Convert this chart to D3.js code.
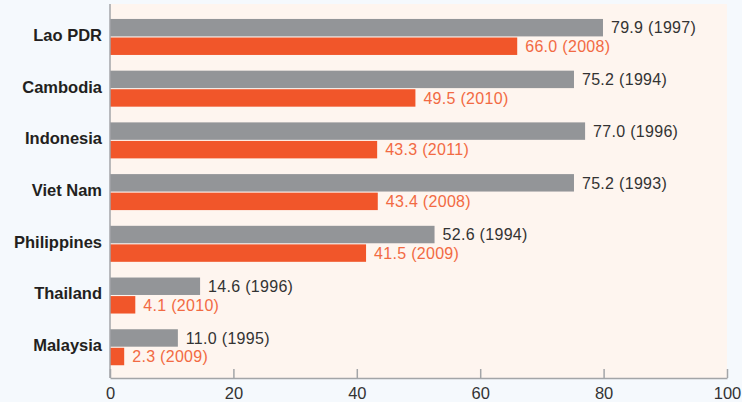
<!DOCTYPE html>
<html>
<head>
<meta charset="utf-8">
<script src="https://cdn.jsdelivr.net/npm/d3@7"></script>
<style>
  html, body { margin: 0; padding: 0; background: #f5f9fd; }
  svg { display: block; font-family: "Liberation Sans", Arial, Helvetica, sans-serif; }
</style>
</head>
<body>
<svg id="chart" width="742" height="402"></svg>
<script>
// Data
const countries = ["Lao PDR", "Cambodia", "Indonesia", "Viet Nam", "Philippines", "Thailand", "Malaysia"];
const earlierValues = [79.9, 75.2, 77.0, 75.2, 52.6, 14.6, 11.0];
const earlierYears = [1997, 1994, 1996, 1993, 1994, 1996, 1995];
const laterValues = [66.0, 49.5, 43.3, 43.4, 41.5, 4.1, 2.3];
const laterYears = [2008, 2010, 2011, 2008, 2009, 2010, 2009];
const xTicks = [0, 20, 40, 60, 80, 100];

const rows = countries.map((c, i) => ({
    country: c,
    bars: [
        { key: "early", value: earlierValues[i], year: earlierYears[i] },
        { key: "late", value: laterValues[i], year: laterYears[i] }
    ]
}));

const svg = d3.select("#chart");
const plot = { left: 110, right: 727, top: 4, bottom: 378 };

const x = d3.scaleLinear().domain([0, 100]).range([plot.left, plot.right]);
const y = d3.scaleBand().domain(countries).range([11.2, 373]).paddingInner(0.304).paddingOuter(0.15);
const ySub = d3.scaleBand().domain(["early", "late"]).range([0, y.bandwidth()]).paddingInner(0.06);

const fillOf = { early: "#939598", late: "#f1562a" };
const textOf = { early: "#333333", late: "#f26a43" };

// Plot background
svg.append("rect")
    .attr("x", plot.left).attr("y", plot.top)
    .attr("width", plot.right - plot.left).attr("height", plot.bottom - plot.top)
    .attr("fill", "#fef5ef");

// Bars and labels
const groups = svg.append("g").selectAll("g")
    .data(rows)
    .join("g")
    .attr("transform", d => `translate(0, ${y(d.country)})`);

groups.selectAll("rect")
    .data(d => d.bars)
    .join("rect")
    .attr("x", x(0))
    .attr("y", d => ySub(d.key))
    .attr("width", d => x(d.value) - x(0))
    .attr("height", ySub.bandwidth())
    .attr("fill", d => fillOf[d.key]);

groups.selectAll("text.val")
    .data(d => d.bars)
    .join("text")
    .attr("class", "val")
    .attr("x", d => x(d.value) + 8)
    .attr("y", d => ySub(d.key) + ySub.bandwidth() / 2)
    .attr("dy", "0.36em")
    .attr("fill", d => textOf[d.key])
    .style("font-size", "16px")
    .style("letter-spacing", "0.3px")
    .text(d => `${d.value.toFixed(1)} (${d.year})`);

// Category labels
svg.append("g").selectAll("text")
    .data(countries)
    .join("text")
    .attr("x", plot.left - 8)
    .attr("y", d => y(d) + y.bandwidth() / 2 - 2)
    .attr("dy", "0.36em")
    .attr("text-anchor", "end")
    .attr("fill", "#231f20")
    .style("font-size", "16.5px")
    .style("font-weight", "bold")
    .text(d => d);

// X axis with ticks pointing up into the plot
const xAxis = svg.append("g")
    .attr("transform", `translate(0, ${plot.bottom})`)
    .call(d3.axisBottom(x).tickValues(xTicks).tickSizeInner(-9).tickSizeOuter(0).tickPadding(9));
xAxis.select(".domain").attr("stroke", "#a3a5a8").attr("stroke-width", 1.5);
xAxis.selectAll(".tick line").attr("stroke", "#a3a5a8").attr("stroke-width", 1.5);
xAxis.selectAll(".tick text")
    .attr("fill", "#333333")
    .style("font-size", "16.5px")
    .style("font-family", "\"Liberation Sans\", Arial, sans-serif");

// Vertical axis line
svg.append("line")
    .attr("x1", x(0)).attr("x2", x(0))
    .attr("y1", plot.top).attr("y2", plot.bottom)
    .attr("stroke", "#a3a5a8")
    .attr("stroke-width", 1.5);
</script>
</body>
</html>
